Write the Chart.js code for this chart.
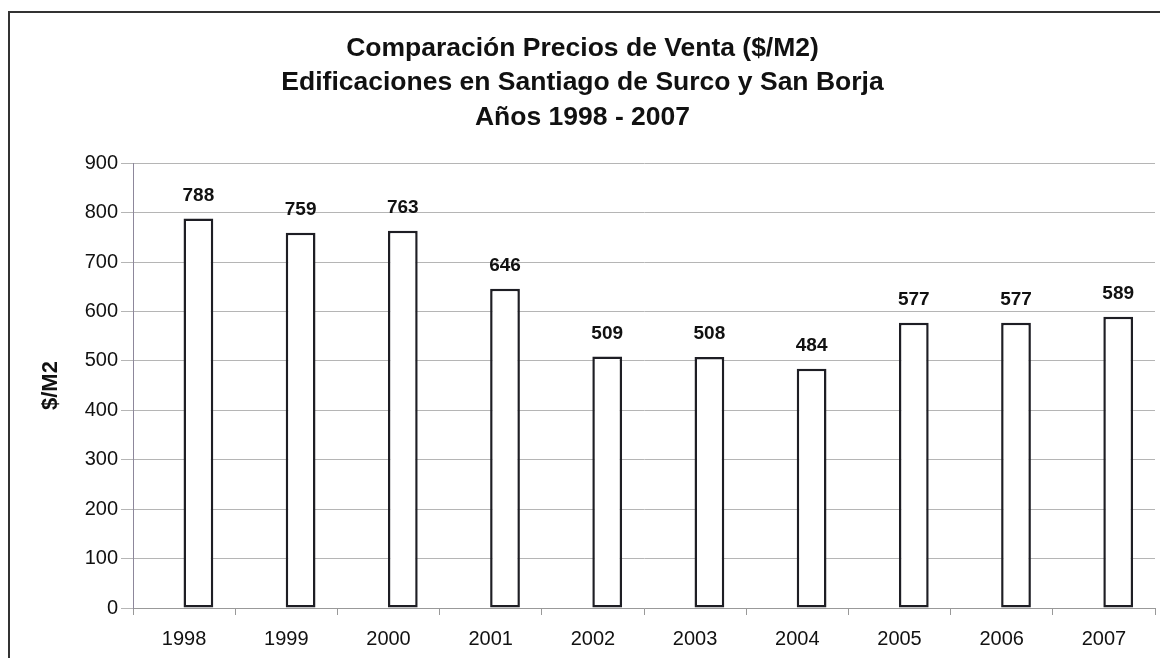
<!DOCTYPE html>
<html>
<head>
<meta charset="utf-8">
<script src="https://cdn.jsdelivr.net/npm/chart.js@4"></script>
<style>
    html, body { margin: 0; padding: 0; background: #fff; }
    #wrap { position: relative; width: 1160px; height: 658px; overflow: hidden; }
    #frame {
        position: absolute; left: 8px; top: 11px; width: 1200px; height: 700px;
        border-top: 2px solid #333; border-left: 2px solid #333; pointer-events: none;
    }
</style>
</head>
<body>
<div id="wrap">
    <canvas id="chart" width="1160" height="658"></canvas>
    <div id="frame"></div>
</div>
<script>
    const years = ['1998', '1999', '2000', '2001', '2002', '2003', '2004', '2005', '2006', '2007'];
    const prices = [788, 759, 763, 646, 509, 508, 484, 577, 577, 589];
    const yTicks = [0, 100, 200, 300, 400, 500, 600, 700, 800, 900];
    const titleLines = [
        'Comparación Precios de Venta ($/M2)',
        'Edificaciones en Santiago de Surco y San Borja',
        'Años 1998 - 2007'
    ];

    const fontFamily = '"Liberation Sans", Arial, sans-serif';
    const gridColor = '#b5b5b5';

    // value labels above each bar
    const barLabels = {
        id: 'barLabels',
        afterDatasetsDraw(chart) {
            const ctx = chart.ctx;
            const meta = chart.getDatasetMeta(1);
            ctx.save();
            ctx.font = 'bold 19px ' + fontFamily;
            ctx.fillStyle = '#111';
            ctx.textAlign = 'center';
            ctx.textBaseline = 'middle';
            meta.data.forEach(function (bar, i) {
                ctx.fillText(String(prices[i]), bar.x, bar.y - 23);
            });
            ctx.restore();
        }
    };

    new Chart(document.getElementById('chart'), {
        type: 'bar',
        data: {
            labels: years,
            datasets: [
                // empty slot so the bars sit right of the category centre, like the original
                { data: [] },
                {
                    data: prices,
                    backgroundColor: '#ffffff',
                    borderColor: '#1e1e24',
                    borderWidth: 2.5,
                    borderSkipped: false
                }
            ]
        },
        options: {
            responsive: false,
            animation: false,
            datasets: { bar: { barPercentage: 1.04, categoryPercentage: 0.56 } },
            layout: { padding: { left: 10, right: 5, top: 0, bottom: 0 } },
            plugins: {
                legend: { display: false },
                tooltip: { enabled: false },
                title: {
                    display: true,
                    text: titleLines,
                    color: '#111',
                    font: { family: fontFamily, size: 26.5, weight: 'bold', lineHeight: 1.31 },
                    padding: { top: 31, bottom: 28 }
                }
            },
            scales: {
                x: {
                    grid: { drawOnChartArea: false, drawTicks: true, tickLength: 7, color: '#999' },
                    border: { color: '#999', width: 1 },
                    ticks: { color: '#111', font: { family: fontFamily, size: 20 }, padding: 12 },
                    afterFit: function (scale) { scale.height = 50; }
                },
                y: {
                    min: 0,
                    max: 900,
                    afterBuildTicks: function (scale) {
                        scale.ticks = yTicks.map(function (v) { return { value: v }; });
                    },
                    grid: { color: gridColor, tickLength: 12 },
                    border: { color: '#8d879b', width: 1 },
                    ticks: { color: '#111', font: { family: fontFamily, size: 20 }, padding: 3 },
                    title: {
                        display: true,
                        text: '$/M2',
                        color: '#111',
                        font: { family: fontFamily, size: 22, weight: 'bold' },
                        padding: { top: 28, bottom: 0 }
                    },
                    afterFit: function (scale) { scale.width = 123; }
                }
            }
        },
        plugins: [barLabels]
    });
</script>
</body>
</html>
